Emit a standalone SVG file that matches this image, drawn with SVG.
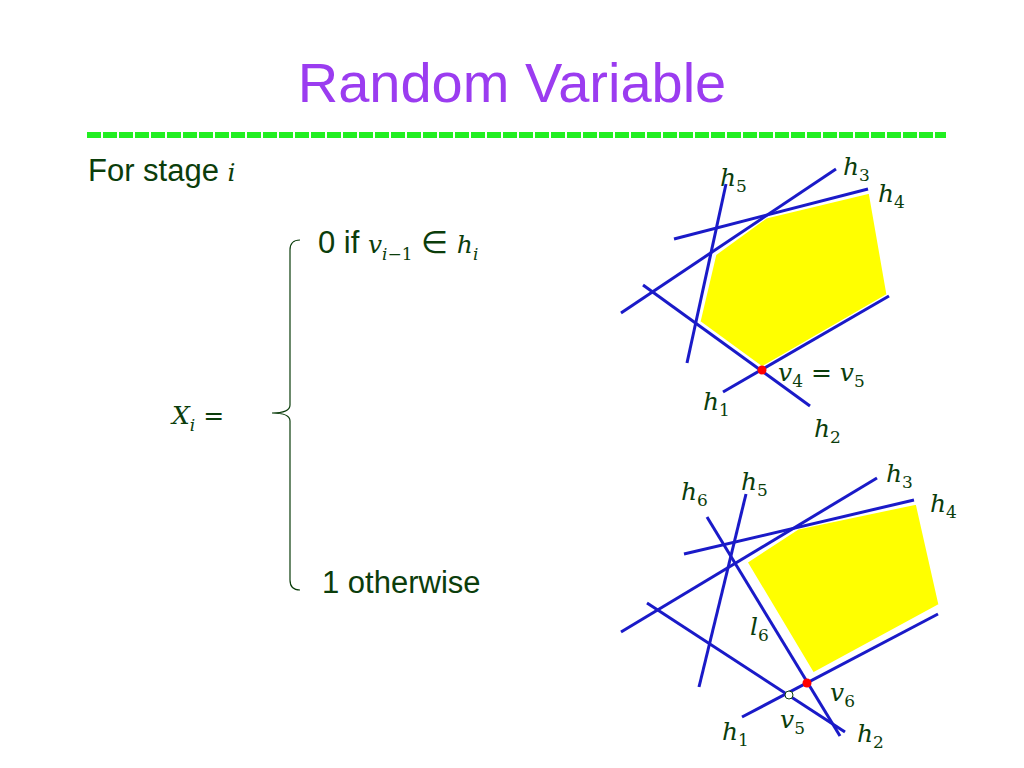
<svg xmlns="http://www.w3.org/2000/svg" width="1024" height="768" viewBox="0 0 1024 768">
<style>
.t{font-family:"Liberation Sans",Arial,sans-serif;fill:#0b3d0b}
.m{font-family:"DejaVu Serif","Liberation Serif",serif;font-style:italic;fill:#0b3d0b;font-size:25px}
.s{font-size:17px;font-style:normal}
.si{font-size:17px}
.ln{stroke:#1a1ac8;stroke-width:3;fill:none}
.poly{fill:#ffff00;stroke:#fff;stroke-width:3}
</style>
<rect width="1024" height="768" fill="#fff"/>
<text x="512" y="102" text-anchor="middle" font-family="Liberation Sans,Arial,sans-serif" font-size="56" fill="#9b3cf0">Random Variable</text>
<line x1="87" y1="135" x2="946" y2="135" stroke="#22ee22" stroke-width="6" stroke-dasharray="14,2"/>
<g id="left">
<text x="88" y="181" class="t" font-size="31">For stage <tspan class="m">i</tspan></text>
<text x="318" y="253" class="t" font-size="31">0 if <tspan class="m">v<tspan class="si" dy="7">i</tspan><tspan class="s">−1</tspan></tspan><tspan dy="-7"> ∈ </tspan><tspan class="m">h<tspan class="si" dy="7">i</tspan></tspan></text>
<text x="172" y="424" class="m">X<tspan class="si" dy="7">i</tspan><tspan dy="-7" style="font-style:normal"> =</tspan></text>
<text x="322" y="593" class="t" font-size="31">1 otherwise</text>
<path d="M300,240 Q290,240 290,250 L290,405 Q290,413 272,413 Q290,413 290,421 L290,580 Q290,590 300,590" fill="none" stroke="#0b3d0b" stroke-width="1.2"/>
</g>
<g id="top">
<polygon class="poly" points="766,217 715,254 699,322 762,368 888,295 870,192"/>
<g class="ln">
<line x1="726" y1="184" x2="687" y2="363"/>
<line x1="836" y1="169" x2="621" y2="313"/>
<line x1="868" y1="189" x2="674" y2="239"/>
<line x1="723" y1="392" x2="889" y2="296"/>
<line x1="643" y1="285" x2="810" y2="406"/>
</g>
<circle cx="762" cy="370" r="4.5" fill="#f00"/>
<text x="720" y="186" class="m">h<tspan class="s" dy="6">5</tspan></text>
<text x="843" y="175" class="m">h<tspan class="s" dy="6">3</tspan></text>
<text x="878" y="202" class="m">h<tspan class="s" dy="6">4</tspan></text>
<text x="778" y="381" class="m">v<tspan class="s" dy="6">4</tspan><tspan dy="-6" style="font-style:normal"> = </tspan>v<tspan class="s" dy="6">5</tspan></text>
<text x="703" y="410" class="m">h<tspan class="s" dy="6">1</tspan></text>
<text x="814" y="437" class="m">h<tspan class="s" dy="6">2</tspan></text>
</g>
<g id="bottom">
<polygon class="poly" points="798,528 746,562 813,674 940,605 917,503"/>
<g class="ln">
<line x1="746" y1="494" x2="699" y2="687"/>
<line x1="877" y1="478" x2="621" y2="632"/>
<line x1="914" y1="500" x2="684" y2="554"/>
<line x1="707" y1="517" x2="840" y2="736"/>
<line x1="647" y1="603" x2="845" y2="732"/>
<line x1="742" y1="717" x2="938" y2="614"/>
</g>
<circle cx="807" cy="683" r="4.5" fill="#f00"/>
<circle cx="789" cy="695" r="4" fill="#fff" stroke="#0b3d0b" stroke-width="1"/>
<text x="681" y="500" class="m">h<tspan class="s" dy="6">6</tspan></text>
<text x="741" y="490" class="m">h<tspan class="s" dy="6">5</tspan></text>
<text x="886" y="482" class="m">h<tspan class="s" dy="6">3</tspan></text>
<text x="930" y="512" class="m">h<tspan class="s" dy="6">4</tspan></text>
<text x="750" y="635" class="m">l<tspan class="s" dy="6">6</tspan></text>
<text x="830" y="701" class="m">v<tspan class="s" dy="6">6</tspan></text>
<text x="780" y="728" class="m">v<tspan class="s" dy="6">5</tspan></text>
<text x="722" y="740" class="m">h<tspan class="s" dy="6">1</tspan></text>
<text x="857" y="742" class="m">h<tspan class="s" dy="6">2</tspan></text>
</g>
</svg>
